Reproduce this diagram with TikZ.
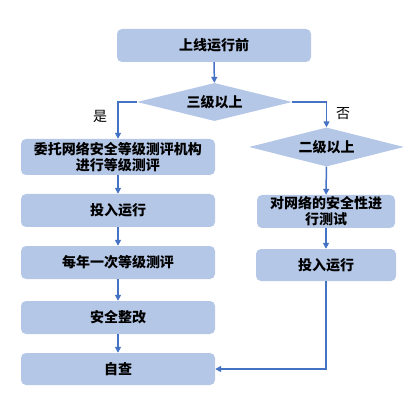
\documentclass[tikz,border=0pt]{standalone}
\usepackage{fontspec}
\newfontfamily\cjk{Noto Sans CJK SC}
\usetikzlibrary{shapes.geometric,arrows.meta}
\definecolor{boxfill}{HTML}{B4C7E7}
\definecolor{arrowc}{HTML}{4472C4}
\tikzset{
  box/.style={draw=none,fill=boxfill,rounded corners=5pt,align=center,font=\cjk\bfseries\fontsize{14}{16}\selectfont,inner sep=0pt},
  dia/.style={diamond,draw=none,fill=boxfill,aspect=4,inner sep=0pt,font=\cjk\bfseries\fontsize{14}{16}\selectfont},
  arr/.style={draw=arrowc,line width=1.5pt,-{Triangle[width=6pt,length=6pt]}},
  lbl/.style={font=\cjk\fontsize{14}{16}\selectfont}
}
\begin{document}
\begin{tikzpicture}[x=1pt,y=-1pt]
\useasboundingbox (0,0) rectangle (410,401);
\node[box,minimum width=194pt,minimum height=33pt] (start) at (214,45.5) {上线运行前};
\node[dia,minimum width=155pt,minimum height=38pt] (d1) at (214.5,102) {三级以上};
\node[dia,minimum width=155pt,minimum height=39pt] (d2) at (326.5,147) {二级以上};
\node[box,minimum width=194pt,minimum height=36pt] (l1) at (118,157) {委托网络安全等级测评机构\\进行等级测评};
\node[box,minimum width=194pt,minimum height=33pt] (l2) at (118,210.5) {投入运行};
\node[box,minimum width=194pt,minimum height=33pt] (l3) at (118,262.5) {每年一次等级测评};
\node[box,minimum width=194pt,minimum height=33pt] (l4) at (118,317.5) {安全整改};
\node[box,minimum width=194pt,minimum height=32pt] (l5) at (118,369) {自查};
\node[box,minimum width=138pt,minimum height=33pt] (r1) at (326,211.5) {对网络的安全性进\\行测试};
\node[box,minimum width=140pt,minimum height=32pt] (r2) at (326,265) {投入运行};
\draw[arr] (start) -- (d1);
\draw[arr] (d1.west) -| (l1.north);
\draw[arr] (d1.east) -| (d2.north);
\draw[arr] (d2) -- (r1);
\draw[arr] (r1) -- (r2);
\draw[arr] (l1) -- (l2);
\draw[arr] (l2) -- (l3);
\draw[arr] (l3) -- (l4);
\draw[arr] (l4) -- (l5);
\draw[arr] (r2.south) |- (l5.east);
\node[lbl] (yes) at (100,116) {是};
\node[lbl] (no) at (343,114) {否};
\end{tikzpicture}
\end{document}
